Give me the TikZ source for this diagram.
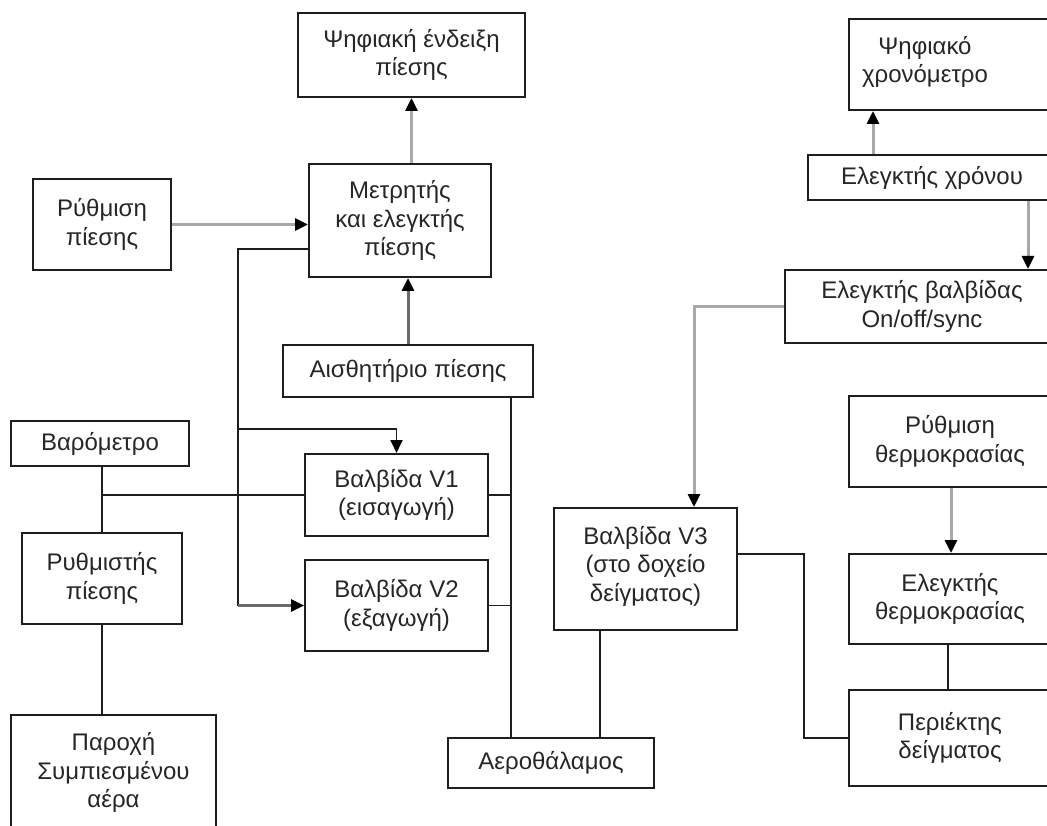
\documentclass[tikz,border=0pt]{standalone}
\usepackage{fontspec}
\setmainfont{Liberation Sans}
\usetikzlibrary{arrows.meta,fit,calc}
\definecolor{boxc}{HTML}{1E1E1E}
\definecolor{linec}{HTML}{1E1E1E}
\definecolor{lgray}{HTML}{A8A8A8}
\definecolor{dgray}{HTML}{6A6A6A}
\definecolor{txtc}{HTML}{262626}
\begin{document}
\begin{tikzpicture}[x=1pt,y=-1pt,
  box/.style={draw=boxc, line width=2pt, inner sep=0pt},
  lbl/.style={inner sep=0pt, align=center, text=txtc,
    font=\fontsize{24}{28.5}\selectfont},
  tipb/.tip={Triangle[length=13pt,width=12pt,color=black]},
  bline/.style={draw=linec, line width=1.8pt},
  barrow/.style={draw=linec, line width=1.8pt, -tipb},
  v2arrow/.style={draw=dgray, line width=2.6pt, -tipb},
  garrow/.style={draw=lgray, line width=3pt, -tipb},
  darrow/.style={draw=dgray, line width=3pt, -tipb}]
\useasboundingbox (0,0) rectangle (1047,826);
\clip (0,0) rectangle (1047,826);

% left / middle boxes
\node[box, fit={(298,13) (525,97)}, label={[lbl]center:{Ψηφιακή ένδειξη\\πίεσης}}] (dpd) {};
\node[box, fit={(309,164) (491,277)}, label={[lbl]center:{Μετρητής\\και ελεγκτής\\πίεσης}}] (mc) {};
\node[box, fit={(33,179) (171,270)}, label={[lbl]center:{Ρύθμιση\\πίεσης}}] (rp) {};
\node[box, fit={(283,345) (533,397)}, label={[lbl]center:{Αισθητήριο πίεσης}}] (ap) {};
\node[box, fit={(11,421) (189,466)}, label={[lbl]center:{Βαρόμετρο}}] (bar) {};
\node[box, fit={(305,454) (488,536)}, label={[lbl]center:{Βαλβίδα V1\\(εισαγωγή)}}] (v1) {};
\node[box, fit={(305,560) (488,651)}, label={[lbl]center:{Βαλβίδα V2\\(εξαγωγή)}}] (v2) {};
\node[box, fit={(22,533) (182,624)}, label={[lbl]center:{Ρυθμιστής\\πίεσης}}] (rr) {};
\node[box, fit={(11,715) (216,830)}, label={[lbl]center:{Παροχή\\Συμπιεσμένου\\αέρα}}] (sup) {};
\node[box, fit={(448,738) (654,788)}, label={[lbl]center:{Αεροθάλαμος}}] (aer) {};
\node[box, fit={(554,508) (737,630)}, label={[lbl,yshift=3pt]center:{Βαλβίδα V3\\(στο δοχείο\\δείγματος)}}] (v3) {};

% right boxes (extend past the right edge)
\node[box, fit={(849,19) (1070,110)}] (tm) {};
\node[lbl] (tmtxt) at (925,62) {Ψηφιακό\\χρονόμετρο};
\node[box, fit={(808,155) (1056,200)}, label={[lbl]center:{Ελεγκτής χρόνου}}] (tc) {};
\node[box, fit={(785,270) (1059,343)}, label={[lbl]center:{Ελεγκτής βαλβίδας\\On/off/sync}}] (vc) {};
\node[box, fit={(849,396) (1051,487)}, label={[lbl]center:{Ρύθμιση\\θερμοκρασίας}}] (rt) {};
\node[box, fit={(849,554) (1051,644)}, label={[lbl]center:{Ελεγκτής\\θερμοκρασίας}}] (tcon) {};
\node[box, fit={(849,690) (1051,786)}, label={[lbl]center:{Περιέκτης\\δείγματος}}] (sc) {};

% helper coordinates
\coordinate (mcL) at (238,249);
\coordinate (br) at (238,429);
\coordinate (col) at (511,0);
\coordinate (bcol) at (102,0);
\coordinate (v3col) at (600,0);
\coordinate (v3in) at (694,0);
\coordinate (scj) at (804,554);
\coordinate (tmx) at (873,0);
\coordinate (vcx) at (1028,0);
\coordinate (rtx) at (951,0);
\coordinate (scx) at (948,0);

% pressure section
\draw[garrow] (rp.east) -- (rp.east -| mc.west);
\draw[garrow] (mc.north -| dpd.south) -- (dpd.south);
\draw[darrow] (ap.north) -- (ap.north |- mc.south);
\draw[bline] (mc.west |- mcL) -- (mcL) -- (mcL |- v2.west);
\draw[v2arrow] (mcL |- v2.west) -- (v2.west);
\draw[barrow] (br) -| (v1.north);
\draw[bline] (ap.south -| col) -- (aer.north -| col);
\draw[bline] (v1.east) -- (v1.east -| col);
\draw[bline] (v2.east) -- (v2.east -| col);

% air supply chain
\draw[bline] (bar.south -| bcol) -- (rr.north -| bcol);
\draw[bline] (v1.west -| bcol) -- (v1.west);
\draw[bline] (rr.south -| bcol) -- (sup.north -| bcol);

% sample valve section
\draw[garrow] (vc.west) -| (v3.north -| v3in);
\draw[bline] (v3.south -| v3col) -- (aer.north -| v3col);
\draw[bline] (v3.east |- scj) -- (scj) |- (sc.west);

% timer / temperature section
\draw[garrow] (tc.north -| tmx) -- (tm.south -| tmx);
\draw[garrow] (tc.south -| vcx) -- (vc.north -| vcx);
\draw[garrow] (rt.south -| rtx) -- (tcon.north -| rtx);
\draw[bline] (tcon.south -| scx) -- (sc.north -| scx);
\end{tikzpicture}
\end{document}
